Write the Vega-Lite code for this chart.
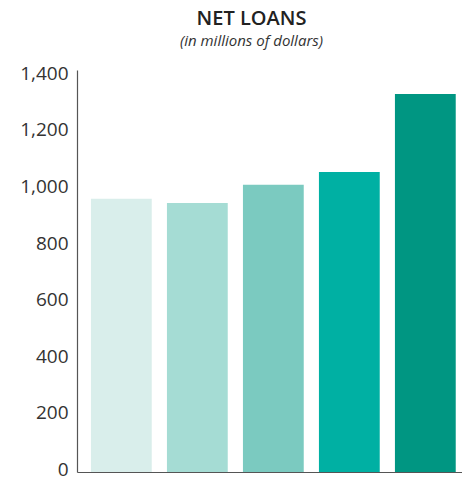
{
  "$schema": "https://vega.github.io/schema/vega-lite/v6.json",
  "autosize": {"type": "none"},
  "padding": {"left": 77, "top": 70, "right": 0, "bottom": 6},
  "width": 385,
  "height": 402,
  "background": "white",
  "title": {
    "text": "NET LOANS",
    "subtitle": "(in millions of dollars)",
    "anchor": "middle",
    "frame": "group",
    "dx": -18,
    "offset": 15,
    "font": "Open Sans",
    "fontSize": 20,
    "fontWeight": 600,
    "color": "#222222",
    "subtitleFont": "Open Sans",
    "subtitleFontSize": 15,
    "subtitleFontStyle": "italic",
    "subtitleColor": "#333333",
    "subtitlePadding": 5
  },
  "data": {
    "values": [
      {"year": "Y1", "loans": 965},
      {"year": "Y2", "loans": 950},
      {"year": "Y3", "loans": 1015},
      {"year": "Y4", "loans": 1060},
      {"year": "Y5", "loans": 1335}
    ]
  },
  "mark": {"type": "bar"},
  "encoding": {
    "x": {
      "field": "year",
      "type": "nominal",
      "sort": null,
      "scale": {"paddingInner": 0.2, "paddingOuter": 0.133, "align": 0.69},
      "axis": {"title": null, "labels": false, "ticks": false, "domainColor": "#555555", "domainWidth": 1.2}
    },
    "y": {
      "field": "loans",
      "type": "quantitative",
      "scale": {"domain": [0, 1420], "nice": false},
      "axis": {
        "title": null,
        "values": [0, 200, 400, 600, 800, 1000, 1200, 1400],
        "format": ",.0f",
        "grid": false,
        "ticks": false,
        "labelFont": "Open Sans",
        "labelFontSize": 19,
        "labelColor": "#333333",
        "labelPadding": 9,
        "labelOffset": -2.5,
        "domainColor": "#555555",
        "domainWidth": 1.2
      }
    },
    "color": {
      "field": "year",
      "type": "nominal",
      "sort": null,
      "scale": {"range": ["#d9eeeb", "#a5dcd4", "#7bcac0", "#00b0a3", "#009682"]},
      "legend": null
    }
  },
  "config": {"view": {"stroke": null}}
}
